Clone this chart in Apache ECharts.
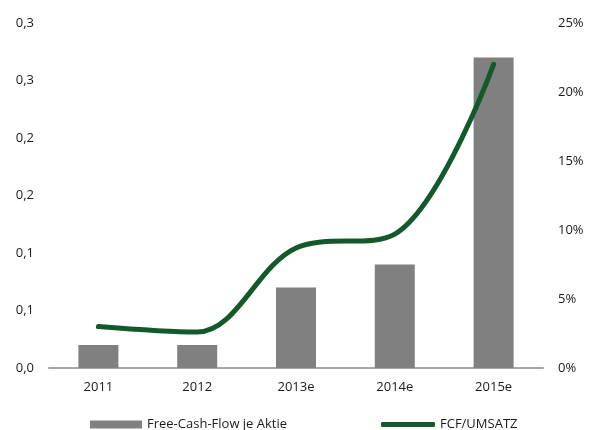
<!DOCTYPE html>
<html>
<head>
<meta charset="utf-8">
<script src="https://cdn.jsdelivr.net/npm/echarts@6/dist/echarts.min.js"></script>
<style>
  html, body { margin: 0; padding: 0; background: #fff; }
  #chart { width: 590px; height: 430px; }
</style>
</head>
<body>
<div id="chart"></div>
<script>
// data
const years = ['2011', '2012', '2013e', '2014e', '2015e']
const fcfPerShare = [0.02, 0.02, 0.07, 0.09, 0.27]
const fcfToSales = [3.0, 2.6, 8.7, 9.7, 22.0]
const leftTickLabels = ['0,0', '0,1', '0,1', '0,2', '0,2', '0,3', '0,3']

const font = 'Open Sans, Liberation Sans, sans-serif'
const textColor = '#1a1a1a'
const green = '#135a2a'

const chart = echarts.init(document.getElementById('chart'))
chart.setOption({
  animation: false,
  textStyle: { fontFamily: font },
  grid: { left: 49, right: 47, top: 23, bottom: 62 },
  legend: [
    {
      left: 85, top: 413,
      itemWidth: 52, itemHeight: 8,
      textStyle: { fontSize: 13, color: textColor, fontFamily: font },
      data: [{ name: 'Free-Cash-Flow je Aktie', icon: 'rect' }]
    },
    {
      left: 376, top: 413,
      itemWidth: 54, itemHeight: 5,
      textStyle: { fontSize: 13, color: textColor, fontFamily: font },
      data: [{ name: 'FCF/UMSATZ', icon: 'roundRect', itemStyle: { color: green } }]
    }
  ],
  xAxis: {
    type: 'category',
    data: years,
    axisTick: { show: false },
    axisLine: { lineStyle: { color: '#a6a6a6', width: 2 } },
    axisLabel: { color: textColor, fontSize: 13, margin: 13, fontFamily: font }
  },
  yAxis: [
    {
      type: 'value',
      min: 0, max: 0.3, interval: 0.05,
      splitLine: { show: false },
      axisLine: { show: false },
      axisTick: { show: false },
      axisLabel: {
        color: textColor, fontSize: 13, margin: 15, fontFamily: font,
        formatter: v => leftTickLabels[Math.round(v / 0.05)]
      }
    },
    {
      type: 'value',
      min: 0, max: 25, interval: 5,
      splitLine: { show: false },
      axisLine: { show: false },
      axisTick: { show: false },
      axisLabel: {
        color: textColor, fontSize: 13, margin: 15, fontFamily: font,
        formatter: v => v + '%'
      }
    }
  ],
  series: [
    {
      name: 'Free-Cash-Flow je Aktie',
      type: 'bar',
      data: fcfPerShare,
      barWidth: 40,
      itemStyle: { color: '#808080' }
    },
    {
      name: 'FCF/UMSATZ',
      type: 'line',
      yAxisIndex: 1,
      data: fcfToSales,
      smooth: 0.35,
      symbol: 'none',
      itemStyle: { color: green },
      lineStyle: { color: green, width: 5, cap: 'round' }
    }
  ]
})
</script>
</body>
</html>
